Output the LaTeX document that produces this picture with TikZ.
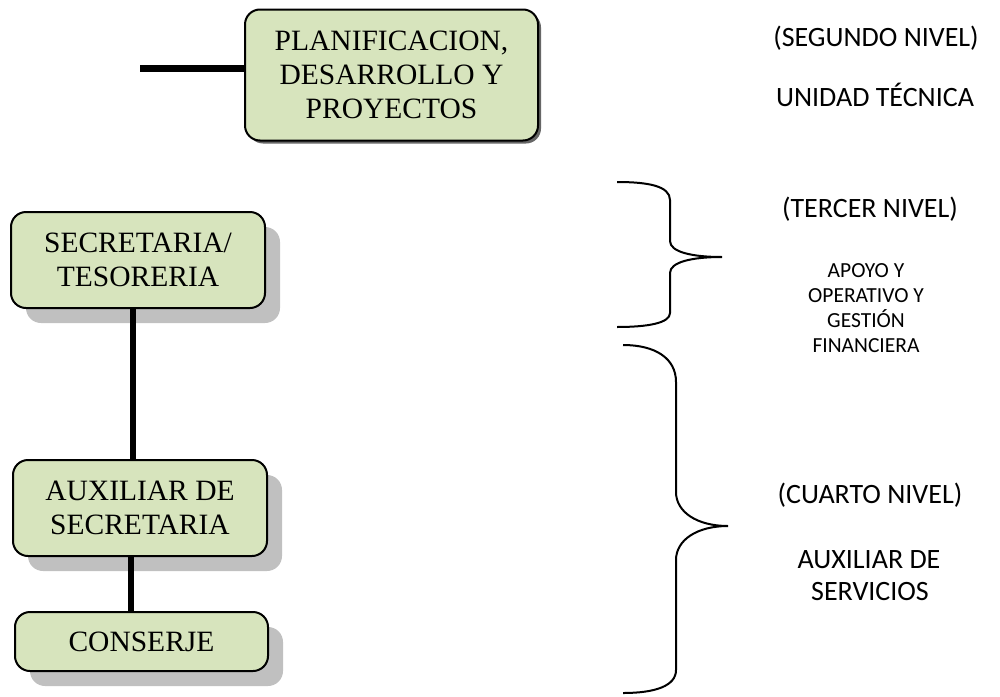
\documentclass[tikz,border=0pt]{standalone}
\usepackage{fontspec}
\setmainfont{Liberation Serif}
\newfontfamily\calfont{Carlito}
\usetikzlibrary{shadows}
\definecolor{boxgreen}{HTML}{D7E4BD}
\definecolor{shadowgray}{HTML}{C0C0C0}
\begin{document}
\begin{tikzpicture}[x=1pt,y=-1pt,
  orgbox/.style={draw=black, line width=2pt, rounded corners=15pt, fill=boxgreen,
    align=center, inner sep=0pt, font=\fontsize{29.5}{34}\selectfont},
  bigshadow/.style={drop shadow={shadow xshift=15pt,shadow yshift=-15pt,fill=shadowgray,opacity=1}},
  smallshadow/.style={drop shadow={shadow xshift=3pt,shadow yshift=-3pt,fill=black!60,opacity=1}},
  link/.style={line width=6pt},
  bar/.style={line width=7pt},
  bracepath/.style={line width=2pt},
  lvl/.style={font=\calfont\fontsize{28}{32}\selectfont, anchor=base, inner sep=0pt},
  lvlsmall/.style={font=\calfont\fontsize{21.5}{25}\selectfont, anchor=base, inner sep=0pt}]
\useasboundingbox (0,0) rectangle (1000,696);

% boxes
\node[orgbox, smallshadow, minimum width=293pt, minimum height=131pt] (plan) at (391.5,75)
  {PLANIFICACION,\\DESARROLLO Y\\PROYECTOS};
\node[orgbox, bigshadow, minimum width=254pt, minimum height=96pt] (sec) at (138,260)
  {SECRETARIA/\\TESORERIA};
\node[orgbox, bigshadow, minimum width=254pt, minimum height=96pt] (aux) at (140,508)
  {AUXILIAR DE\\SECRETARIA};
\node[orgbox, bigshadow, minimum width=253pt, minimum height=59pt] (cons) at (141.5,641.5)
  {CONSERJE};

% connectors
\coordinate (hb) at (140,68.5);
\draw[bar] (hb) -- (plan.west |- hb);
\coordinate (l1) at (133,0);
\coordinate (l2) at (131,0);
\draw[link] (sec.south -| l1) -- (aux.north -| l1);
\draw[link] (aux.south -| l2) -- (cons.north -| l2);

% braces
\draw[bracepath] (617,182) .. controls (648,182) and (670,186) .. (670,200)
  -- (670,241) .. controls (670,252) and (692,257) .. (722,257)
  .. controls (692,257) and (670,262) .. (670,273)
  -- (670,313) .. controls (670,323) and (648,327) .. (617,327);
\draw[bracepath] (623,345) .. controls (655,345) and (676,358) .. (676,382)
  -- (676,492) .. controls (676,512) and (697,526) .. (728,526)
  .. controls (697,526) and (676,540) .. (676,560)
  -- (676,670) .. controls (676,686) and (655,693) .. (623,693);

% right texts
\node[lvl] (seg) at (876,46) {(SEGUNDO NIVEL)};
\node[lvl] (ut) at (875,106) {UNIDAD TÉCNICA};
\node[lvl] (ter) at (870,217) {(TERCER NIVEL)};
\node[lvlsmall] (s1) at (866,277) {APOYO Y};
\node[lvlsmall] (s2) at (866,302) {OPERATIVO Y};
\node[lvlsmall] (s3) at (866,327) {GESTIÓN};
\node[lvlsmall] (s4) at (866,352) {FINANCIERA};
\node[lvl] (cua) at (870,503) {(CUARTO NIVEL)};
\node[lvl] (as1) at (869,568) {AUXILIAR DE};
\node[lvl] (as2) at (870,600) {SERVICIOS};
\end{tikzpicture}
\end{document}
